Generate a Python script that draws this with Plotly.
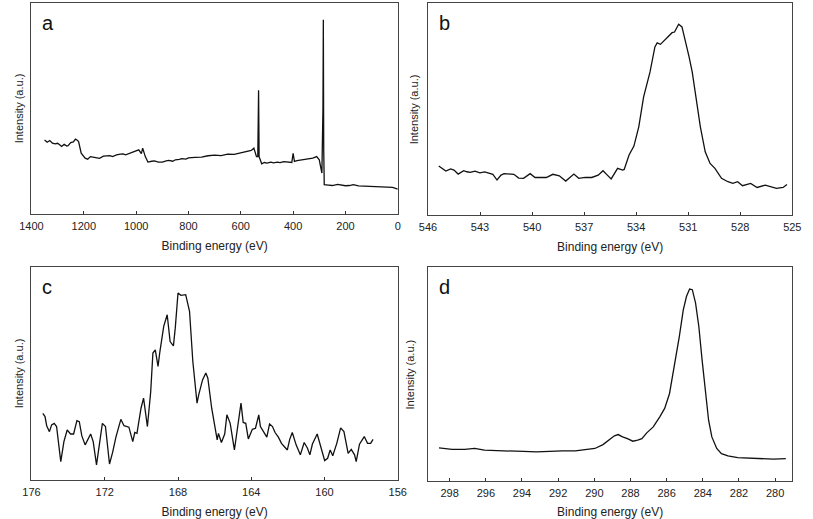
import plotly.graph_objects as go

# ---- Panel a: survey spectrum ----
a_ev = [1350, 1345, 1340, 1330, 1320, 1310, 1300, 1290, 1285, 1275, 1265, 1260, 1250, 1240, 1232,
        1225, 1220, 1210, 1195, 1185, 1175, 1165, 1150, 1140, 1125, 1115, 1100, 1090, 1075, 1060,
        1050, 1040, 1025, 1015, 1003, 995, 990, 980, 975, 965, 955, 940, 930, 915, 900, 885, 875,
        860, 850, 835, 825, 810, 800, 775, 750, 725, 700, 675, 650, 625, 600, 585, 575, 560, 550,
        545, 540, 535, 532, 530, 525, 520, 510, 500, 485, 475, 460, 450, 435, 420, 405, 400, 395,
        385, 375, 360, 350, 335, 325, 310, 300, 295, 290, 286, 284.5, 283, 281, 265, 250, 230,
        215, 200, 185, 170, 150, 125, 100, 80, 60, 40, 20, 0]
a_int = [35.1, 34.5, 34.0, 34.8, 33.6, 33.2, 33.5, 32.6, 32.0, 33.0, 32.2, 32.4, 33.8, 34.2, 35.5,
         35.0, 34.3, 28.8, 26.5, 26.0, 27.2, 27.0, 26.8, 26.4, 27.4, 27.6, 27.7, 27.2, 28.0, 28.4,
         28.5, 28.0, 28.8, 29.2, 29.9, 30.2, 30.4, 28.6, 31.2, 27.2, 24.6, 25.0, 25.2, 24.6, 24.6,
         25.2, 25.4, 25.0, 25.7, 25.9, 26.2, 26.0, 26.6, 26.8, 27.0, 27.6, 27.9, 27.7, 28.4, 28.3,
         29.0, 29.2, 29.6, 30.1, 31.2, 28.8, 27.2, 27.2, 58.7, 27.2, 24.9, 23.8, 24.4, 24.1, 24.6,
         24.2, 24.6, 24.4, 24.8, 24.6, 24.4, 28.8, 24.9, 25.3, 25.5, 25.8, 26.0, 26.4, 26.5, 27.2,
         25.7, 22.5, 19.4, 50.0, 92.1, 30.0, 13.9, 13.7, 13.5, 14.0, 13.6, 13.4, 13.5, 13.9, 13.3,
         13.2, 13.1, 13.0, 13.0, 12.8, 12.6, 11.8]

# ---- Panel b: O 1s ----
b_ev = [545.38, 545.16, 544.97, 544.69, 544.50, 544.26, 543.94, 543.76, 543.57, 543.29, 543.01,
        542.73, 542.45, 542.26, 542.02, 541.79, 541.61, 541.05, 540.77, 540.49, 540.11, 539.83,
        539.18, 538.80, 538.43, 538.06, 537.59, 537.31, 536.93, 536.56, 536.19, 535.91, 535.72,
        535.44, 535.07, 534.78, 534.69, 534.41, 534.13, 533.85, 533.57, 533.20, 532.92, 532.79,
        532.60, 532.26, 531.93, 531.79, 531.55, 531.36, 531.14, 530.95, 530.77, 530.58, 530.30,
        530.02, 529.74, 529.46, 529.08, 528.71, 528.43, 528.15, 527.87, 527.40, 527.03, 526.56,
        525.91, 525.53, 525.31]
b_int = [23.1, 22.0, 20.7, 21.7, 21.2, 19.3, 20.9, 20.4, 20.1, 20.7, 19.9, 20.3, 19.6, 19.2,
         16.5, 18.8, 19.5, 19.2, 17.4, 17.3, 19.5, 17.7, 17.7, 19.2, 18.5, 16.0, 19.3, 17.3, 17.7,
         17.7, 18.8, 20.9, 19.3, 17.0, 22.0, 21.2, 21.5, 28.3, 32.5, 41.6, 55.7, 67.5, 79.3, 81.2,
         80.5, 83.5, 86.0, 86.3, 90.0, 88.7, 81.6, 74.6, 67.5, 56.5, 41.6, 29.8, 24.3, 22.0, 17.3,
         15.7, 14.9, 15.7, 13.8, 14.9, 13.0, 14.1, 12.6, 13.0, 14.4]

# ---- Panel c: S 2p ----
c_ev = [175.38, 175.26, 175.17, 175.02, 174.90, 174.76, 174.63, 174.40, 174.23, 174.05, 173.87,
        173.70, 173.52, 173.39, 173.25, 173.07, 172.77, 172.63, 172.45, 172.28, 172.13, 171.96,
        171.74, 171.57, 171.39, 171.12, 170.95, 170.68, 170.47, 170.36, 170.24, 170.02, 169.88,
        169.67, 169.49, 169.37, 169.24, 169.09, 169.00, 168.78, 168.59, 168.43, 168.25, 168.15,
        168.00, 167.84, 167.70, 167.58, 167.37, 167.19, 166.96, 166.87, 166.66, 166.48, 166.37,
        166.16, 165.86, 165.79, 165.63, 165.45, 165.33, 165.15, 164.92, 164.74, 164.56, 164.44,
        164.30, 164.16, 163.94, 163.77, 163.59, 163.50, 163.32, 163.15, 163.00, 162.84, 162.70,
        162.52, 162.35, 162.03, 161.90, 161.76, 161.55, 161.32, 161.11, 160.93, 160.80, 160.66,
        160.40, 160.22, 159.99, 159.83, 159.69, 159.55, 159.33, 159.12, 158.94, 158.71, 158.54,
        158.36, 158.27, 158.09, 157.83, 157.65, 157.48, 157.35]
c_int = [31.3, 29.8, 25.5, 22.7, 25.9, 26.6, 25.1, 8.6, 18.0, 23.5, 21.6, 21.6, 27.9, 27.4,
         20.7, 16.5, 21.6, 18.0, 7.1, 18.0, 26.6, 25.1, 7.5, 13.0, 20.1, 28.5, 25.5, 24.8, 18.0,
         22.3, 21.9, 33.7, 38.4, 25.1, 41.5, 59.6, 61.1, 53.3, 59.6, 72.1, 77.6, 65.0, 63.0, 71.3,
         87.8, 86.7, 86.7, 87.0, 79.2, 55.6, 36.1, 40.0, 47.0, 50.2, 47.8, 33.7, 18.8, 21.9, 17.6,
         21.6, 30.6, 26.6, 14.1, 25.9, 36.1, 27.0, 26.6, 19.3, 23.8, 24.3, 30.6, 25.1, 22.3, 20.1,
         26.3, 25.1, 22.3, 20.1, 17.2, 14.1, 19.1, 22.3, 16.5, 11.8, 17.6, 14.9, 11.8, 16.9, 21.6,
         16.5, 9.1, 10.2, 14.1, 11.4, 17.2, 24.5, 22.7, 12.5, 14.4, 11.8, 8.6, 16.8, 20.4, 17.2,
         17.2, 19.1]

# ---- Panel d: C 1s ----
d_ev = [298.59, 297.87, 297.16, 296.62, 296.08, 295.36, 294.64, 293.92, 293.20, 292.49, 291.77,
        291.05, 290.33, 289.97, 289.52, 289.16, 288.89, 288.68, 288.44, 288.17, 287.87, 287.60,
        287.37, 287.10, 286.74, 286.38, 286.11, 285.84, 285.57, 285.30, 285.08, 284.90, 284.73,
        284.58, 284.40, 284.22, 284.04, 283.86, 283.68, 283.50, 283.23, 282.97, 282.61, 282.07,
        281.35, 280.81, 280.09, 279.41]
d_int = [15.5, 14.8, 14.8, 15.2, 14.4, 14.1, 13.8, 13.8, 13.6, 13.9, 14.1, 14.1, 14.8, 15.2,
         17.0, 19.5, 21.1, 21.7, 20.6, 19.8, 18.6, 19.1, 19.8, 22.5, 25.3, 30.0, 33.9, 40.9, 53.4,
         67.5, 80.0, 86.3, 89.7, 89.4, 83.1, 72.2, 56.6, 40.9, 28.4, 20.6, 15.2, 12.8, 11.7, 10.9,
         10.6, 10.2, 10.2, 10.5]

panel_letters = ["a", "b", "c", "d"]
x_title = "Binding energy (eV)"
y_title = "Intensity (a.u.)"

W, H = 813, 519
def px(x):
    return x / W
def py(y):
    return 1 - y / H

panels = [
    dict(x=a_ev, y=a_int, xr=[1400, 0], tick0=0, dtick=200, dom_x=[px(20), px(396)], dom_y=[py(214), py(3)]),
    dict(x=b_ev, y=b_int, xr=[546, 525], tick0=525, dtick=3, dom_x=[px(427), px(801)], dom_y=[py(215), py(3)]),
    dict(x=c_ev, y=c_int, xr=[176, 156], tick0=156, dtick=4, dom_x=[px(20), px(396)], dom_y=[py(480), py(267)]),
    dict(x=d_ev, y=d_int, xr=[299.2, 279.05], tick0=280, dtick=2, dom_x=[px(427), px(801)], dom_y=[py(481), py(267)]),
]

fig = go.Figure()
font_family = "Liberation Sans, Arial, sans-serif"
annotations = []
ytitle_x = [7, 413, 7, 409]
for i, p in enumerate(panels):
    n = "" if i == 0 else str(i + 1)
    fig.add_trace(go.Scatter(x=p["x"], y=p["y"], mode="lines",
                             line=dict(color="#111111", width=1.3),
                             xaxis="x" + n, yaxis="y" + n, showlegend=False))
    fig.update_layout(**{
        "xaxis" + n: dict(domain=p["dom_x"], range=p["xr"], anchor="y" + n,
                          tickmode="linear", tick0=p["tick0"], dtick=p["dtick"],
                          ticks="inside", ticklen=3, tickcolor="#333", tickwidth=1,
                          ticklabelstandoff=2,
                          showline=True, linecolor="#444", linewidth=1, mirror=True,
                          showgrid=False, zeroline=False,
                          tickfont=dict(size=11, color="#222", family=font_family),
                          title=dict(text=x_title, standoff=10,
                                     font=dict(size=12, color="#222", family=font_family))),
        "yaxis" + n: dict(domain=p["dom_y"], range=[0, 100], anchor="x" + n,
                          showticklabels=False, ticks="", showline=True, linecolor="#444",
                          linewidth=1, mirror=True, showgrid=False, zeroline=False),
    })
    annotations.append(dict(text=panel_letters[i], xref="paper", yref="paper",
                            x=p["dom_x"][0] + px(9), y=p["dom_y"][1] - 7 / H,
                            xanchor="left", yanchor="top", showarrow=False,
                            font=dict(size=20, color="#111", family=font_family)))
    annotations.append(dict(text=y_title, xref="paper", yref="paper",
                            x=px(ytitle_x[i]), y=(p["dom_y"][0] + p["dom_y"][1]) / 2,
                            xanchor="center", yanchor="middle", textangle=-90, showarrow=False,
                            font=dict(size=11, color="#222", family=font_family)))

fig.update_layout(width=W, height=H, margin=dict(l=0, r=0, t=0, b=0),
                  paper_bgcolor="white", plot_bgcolor="white",
                  annotations=annotations)
fig.write_html("out.html")
